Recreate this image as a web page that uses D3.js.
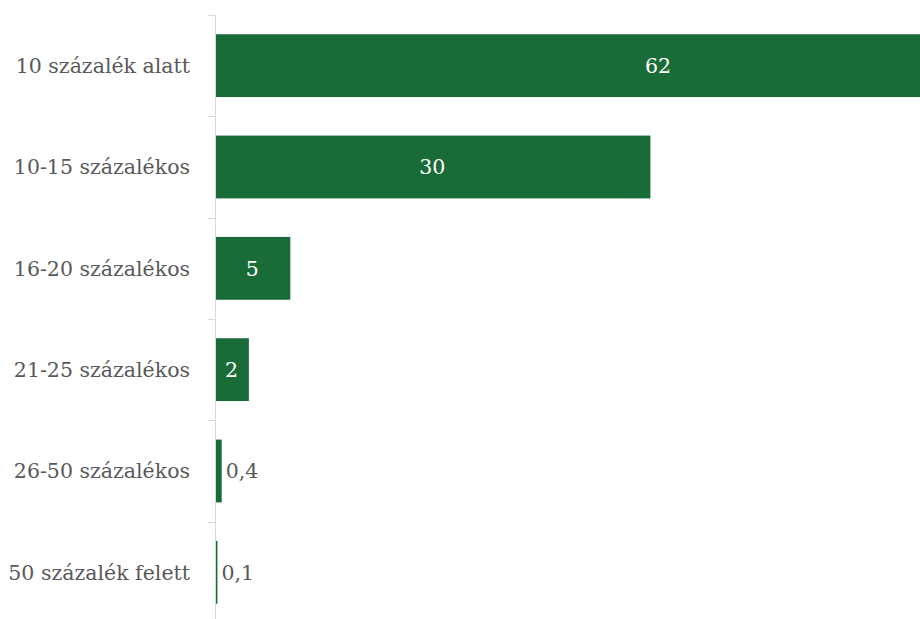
<!DOCTYPE html>
<html>
<head>
<meta charset="utf-8">
<script src="https://cdn.jsdelivr.net/npm/d3@7"></script>
<style>
  body { margin: 0; background: #fff; overflow: hidden; }
  svg { display: block; }
</style>
</head>
<body>
<div id="chart"></div>
<script>
// kategóriák és értékek (százalék)
var categories = ["10 százalék alatt", "10-15 százalékos", "16-20 százalékos",
                  "21-25 százalékos", "26-50 százalékos", "50 százalék felett"];
var values = [62, 30.4, 5.2, 2.3, 0.4, 0.1];

var width = 920, height = 619
  , axisX = 215
  , green = "#196b38", grey = "#595959"
  , font = "'Palatino Linotype', 'Book Antiqua', Palatino, 'DejaVu Serif', serif";

var svg = d3.select("#chart").append("svg")
    .attr("width", width).attr("height", height);

var y = d3.scaleBand().domain(categories).range([15, 623]).paddingInner(0.38).paddingOuter(0.19);
var x = d3.scaleLinear().domain([0, 62]).range([axisX, axisX + 886]);

var fmt = function(v){
    return v >= 1 ? d3.format(".0f")(v) : d3.format(".1f")(v).replace(".", ",");
};

// bal tengely: vonal + osztásjelek a sávok határán
var step = y.step();
var bounds = d3.range(categories.length + 1).map(i => 15 + i * step);
svg.append("line")
    .attr("x1", axisX + 0.5).attr("x2", axisX + 0.5)
    .attr("y1", 15).attr("y2", height)
    .style("stroke", "#d9d9d9");
svg.append("g").selectAll("line").data(bounds).enter().append("line")
    .attr("x1", axisX - 7).attr("x2", axisX)
    .attr("y1", d => Math.round(d) + 0.5).attr("y2", d => Math.round(d) + 0.5)
    .style("stroke", "#d9d9d9");

// oszlopok
svg.append("g").selectAll("rect").data(values).enter().append("rect")
    .attr("x", axisX + 1)
    .attr("y", (d,i) => y(categories[i]))
    .attr("width", d => x(d) - axisX)
    .attr("height", y.bandwidth())
    .style("fill", green);

// kategória feliratok
svg.append("g").selectAll("text").data(categories).enter().append("text")
    .attr("x", 190)
    .attr("y", d => y(d) + y.bandwidth()/2)
    .attr("dy", "0.35em")
    .attr("text-anchor", "end")
    .style("font-family", font).style("font-size", "20.5px")
    .style("fill", grey)
    .text(d => d);

// értékcímkék
svg.append("g").selectAll("text").data(values).enter().append("text")
    .attr("x", d => d >= 1 ? (axisX + x(d)) / 2 : x(d) + 5)
    .attr("y", (d,i) => y(categories[i]) + y.bandwidth()/2)
    .attr("dy", "0.35em")
    .attr("text-anchor", d => d >= 1 ? "middle" : "start")
    .style("font-family", font).style("font-size", "20.5px")
    .style("fill", d => d >= 1 ? "#ffffff" : grey)
    .text(d => fmt(d));
</script>
</body>
</html>
